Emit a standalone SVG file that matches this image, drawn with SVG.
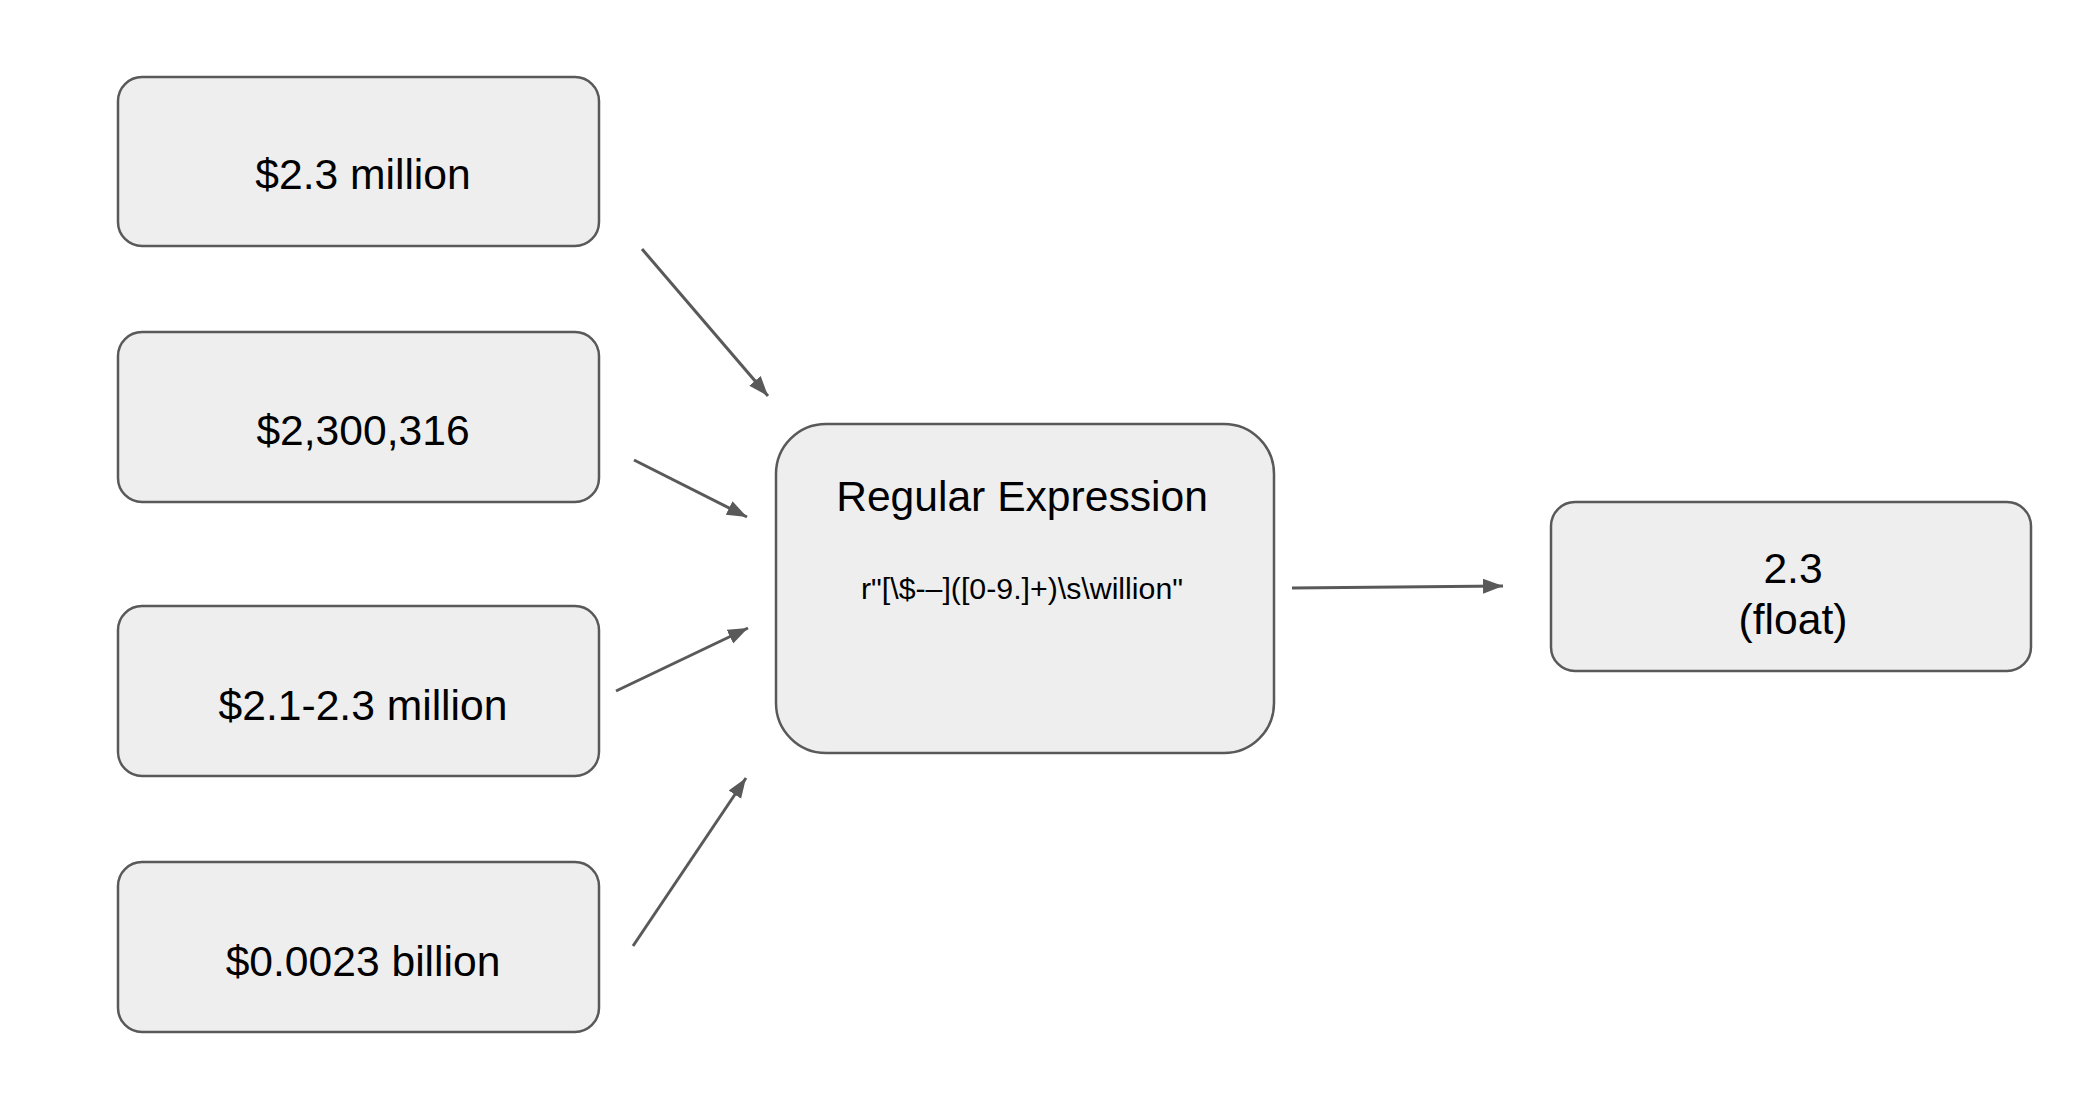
<svg xmlns="http://www.w3.org/2000/svg" width="2084" height="1110" viewBox="0 0 2084 1110">
<style>
.box{fill:#eeeeee;stroke:#595959;stroke-width:2.5}
.t{font-family:"Liberation Sans",Arial,sans-serif;font-size:42.6px;fill:#000;text-anchor:middle}
.s{font-size:30.3px}
.c{stroke:#595959;stroke-width:3;fill:none;marker-end:url(#ah)}
</style>
<defs>
<marker id="ah" markerUnits="userSpaceOnUse" markerWidth="22" markerHeight="16" refX="20" refY="7.5" orient="auto" viewBox="0 0 22 16">
<path d="M0,0 L20,7.5 L0,15 z" fill="#595959"/>
</marker>
</defs>
<rect width="2084" height="1110" fill="#ffffff"/>
<g id="n1"><rect class="box" x="118" y="77" width="481" height="169" rx="24"/><text class="t" x="363" y="189">$2.3 million</text></g>
<g id="n2"><rect class="box" x="118" y="332" width="481" height="170" rx="24"/><text class="t" x="363" y="445">$2,300,316</text></g>
<g id="n3"><rect class="box" x="118" y="606" width="481" height="170" rx="24"/><text class="t" x="363" y="720">$2.1-2.3 million</text></g>
<g id="n4"><rect class="box" x="118" y="862" width="481" height="170" rx="24"/><text class="t" x="363" y="976">$0.0023 billion</text></g>
<g id="n5"><rect class="box" x="776" y="424" width="498" height="329" rx="50"/><text class="t" x="1022" y="511">Regular Expression</text><text class="t s" x="1022" y="599">r"[\$-–]([0-9.]+)\s\willion"</text></g>
<g id="n6"><rect class="box" x="1551" y="502" width="480" height="169" rx="24"/><text class="t" x="1793" y="583">2.3</text><text class="t" x="1793" y="634">(float)</text></g>
<g id="connectors">
<line class="c" x1="642" y1="249" x2="768" y2="396"/>
<line class="c" x1="634" y1="460" x2="747" y2="517"/>
<line class="c" x1="616" y1="691" x2="748" y2="628"/>
<line class="c" x1="633" y1="946" x2="746" y2="778"/>
<line class="c" x1="1292" y1="588" x2="1503" y2="586"/>
</g>
</svg>
